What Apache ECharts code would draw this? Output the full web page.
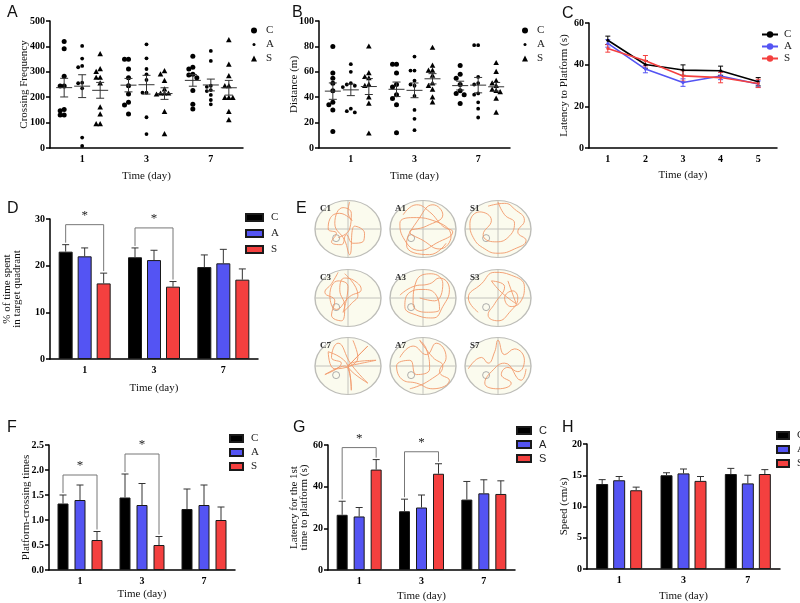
<!DOCTYPE html>
<html>
<head>
<meta charset="utf-8">
<script src="https://cdn.jsdelivr.net/npm/echarts/dist/echarts.min.js"></script>
<style>
html, body { margin: 0; background: #fff; }
#main { width: 800px; height: 603px; }
</style>
</head>
<body>
<div id="main"></div>
<script>
// ---- data ----
var days = ['1', '3', '7'];
var trainDays = ['1', '2', '3', '4', '5'];

// A: crossing frequency, one list per day
var crossC = [[419, 391, 282, 244, 244, 152, 147, 130, 130], [349, 349, 311, 277, 245, 213, 180, 169, 134], [361, 318, 311, 290, 287, 277, 226, 172, 154]];
var crossA = [[402, 352, 323, 318, 257, 255, 235, 41, 8], [408, 353, 311, 290, 268, 218, 218, 121, 55], [382, 343, 245, 241, 228, 224, 209, 189, 172]];
var crossS = [[370, 311, 300, 277, 277, 255, 160, 133, 94, 94], [303, 290, 265, 231, 215, 215, 215, 211, 143, 55], [425, 329, 283, 244, 244, 198, 198, 198, 143, 110]];

// B: distance (m)
var distC = [[80, 59, 55, 51, 45, 36, 34, 30, 13], [66, 66, 59, 50, 48, 42, 39, 34, 12], [65, 58, 55, 50, 45, 43, 42, 35]];
var distA = [[66, 60, 51, 50, 49, 48, 31, 29, 28], [72, 61, 61, 53, 50, 49, 41, 30, 23, 14], [81, 81, 56, 51, 50, 43, 42, 36, 31, 24]];
var distS = [[80, 59, 56, 55, 50, 49, 40, 35, 11.5], [79, 65, 61, 61, 57, 51, 49, 46, 40, 36], [67, 60, 53, 51, 49, 46, 45, 44, 39, 28]];

// C: latency to platform over training days
var latC = [51.7, 40.1, 37.4, 37.1, 31.8], latCErr = [2, 1.8, 2.5, 2.2, 2];
var latA = [50.2, 37.9, 31.4, 34.6, 30.7], latAErr = [1.8, 1.8, 1.8, 1.8, 1.5];
var latS = [47.8, 41.9, 34.6, 33.8, 31.0], latSErr = [1.8, 2.5, 2.5, 2.5, 2];

// D: % of time in target quadrant
var quadC = [23, 21.8, 19.7], quadCErr = [1.5, 2.0, 2.6];
var quadA = [22, 21.2, 20.5], quadAErr = [1.8, 2.1, 3.0];
var quadS = [16.2, 15.5, 17.0], quadSErr = [2.2, 1.1, 2.3];

// F: platform-crossing times
var crossTimesC = [1.33, 1.45, 1.22], crossTimesCErr = [0.17, 0.47, 0.40];
var crossTimesA = [1.40, 1.30, 1.30], crossTimesAErr = [0.30, 0.43, 0.40];
var crossTimesS = [0.60, 0.50, 1.00], crossTimesSErr = [0.17, 0.17, 0.26];

// G: latency for the 1st time to platform
var firstC = [26.5, 28.2, 33.8], firstCErr = [6.5, 5.8, 8.7];
var firstA = [25.7, 30.0, 36.8], firstAErr = [4.3, 6.0, 6.5];
var firstS = [48.2, 46.2, 36.5], firstSErr = [4.8, 4.8, 6.3];

// H: speed
var speedC = [13.6, 15.0, 15.2], speedCErr = [0.7, 0.4, 0.9];
var speedA = [14.2, 15.3, 13.7], speedAErr = [0.6, 0.7, 1.3];
var speedS = [12.6, 14.1, 15.2], speedSErr = [0.5, 0.7, 0.7];

// significant C vs S comparisons (day index)
var sigDays = [0, 1];

// E: swim paths (pool coordinates, -1..1)
var poolNames = ['C1', 'A1', 'S1', 'C3', 'A3', 'S3', 'C7', 'A7', 'S7'];
var pathC1 = [[0.05, 0.95], [0, 0.6], [0.12, 0.3], [-0.25, 0.55], [-0.55, 0.35], [-0.6, 0], [-0.35, -0.15], [-0.5, -0.45], [-0.2, -0.55], [-0.05, -0.2], [0.15, -0.5], [0.45, -0.45], [0.5, -0.15], [0.2, 0.1], [0.05, -0.9], [-0.1, -0.4], [-0.4, 0.2], [-0.15, 0.75], [0.1, 0.55], [0.05, 0], [-0.3, -0.3]];
var pathA1 = [[-0.6, 0.5], [-0.2, 0.85], [0.2, 0.6], [0.6, 0.1], [0.9, -0.1], [0.4, -0.5], [-0.1, -0.75], [-0.6, -0.3], [-0.7, 0.2], [-0.3, 0.4], [0.3, 0.3], [0.85, -0.25], [0.5, -0.7], [0, -0.4], [-0.4, -0.1], [0.1, 0.1], [0.6, 0.5], [0.3, 0.85], [-0.1, 0.4], [-0.5, -0.55], [0.2, -0.9], [0.7, -0.5]];
var pathS1 = [[-0.3, 0.8], [0.2, 0.9], [0.5, 0.7], [0.8, 0.3], [0.6, -0.1], [0.85, -0.4], [0.5, -0.7], [0, -0.85], [-0.4, -0.7], [-0.75, -0.3], [-0.85, 0.2], [-0.55, 0.6], [-0.2, 0.3], [-0.45, -0.2], [-0.1, -0.45], [0.3, -0.3], [0.5, 0.2], [0.2, 0.5], [0, 0.95]];
var pathC3 = [[-0.3, 0.9], [-0.5, 0.5], [-0.7, 0.2], [-0.4, -0.1], [-0.5, -0.6], [-0.2, -0.8], [-0.1, -0.3], [-0.25, 0.3], [-0.1, 0.7], [0.2, 0.6], [0.4, 0.3], [0.05, 0.05], [-0.35, -0.4], [-0.55, 0.1], [-0.3, 0.6], [0, 0.4], [-0.15, -0.5], [0.1, -0.2], [0.3, 0.1], [-0.1, 0.85]];
var pathA3 = [[-0.7, 0.1], [-0.3, 0.4], [0.2, 0.5], [0.5, 0.7], [0.8, 0.3], [0.6, -0.3], [0.3, -0.7], [-0.2, -0.6], [-0.55, -0.3], [-0.4, 0.2], [0, 0.3], [0.4, 0.1], [0.5, -0.4], [0.1, -0.5], [-0.3, -0.2], [-0.2, 0.6], [0.25, 0.85], [0.6, 0.5], [0.35, -0.1], [-0.1, 0]];
var pathS3 = [[-0.6, -0.5], [-0.9, 0], [-0.5, 0.5], [-0.1, 0.9], [0.4, 0.8], [0.8, 0.4], [0.7, -0.1], [0.4, -0.3], [0.2, 0], [0.45, 0.25], [0.6, 0], [0.35, -0.5], [0, -0.8], [-0.3, -0.6], [-0.1, -0.2], [0.2, 0.4], [-0.2, 0.6], [0.1, 0.2], [0.55, -0.2], [0.3, 0.6]];
var pathC7 = [[0, 0], [0.6, 0.7], [0, 0], [0.85, 0.2], [0, 0], [0.6, -0.6], [0.1, 0.05], [-0.3, 0.8], [-0.5, 0.3], [-0.2, 0.1], [-0.7, -0.3], [-0.1, 0], [0.1, -0.85], [0, 0], [-0.6, 0.5], [-0.4, -0.1], [0.3, 0.3], [0.15, 0.9]];
var pathA7 = [[-0.7, 0.3], [-0.3, 0.7], [0.1, 0.4], [0.4, 0.8], [0.7, 0.3], [0.5, -0.2], [0.8, -0.5], [0.3, -0.8], [-0.2, -0.6], [-0.6, -0.5], [-0.8, 0], [-0.4, 0.2], [-0.2, -0.3], [0.2, -0.1], [0.1, 0.6], [-0.1, 0.9], [0.3, 0.3], [0.6, 0], [0.2, -0.5], [-0.4, -0.8]];
var pathS7 = [[-0.9, -0.1], [-0.5, 0.3], [-0.3, 0.1], [-0.1, 0.5], [0, 0.9], [0.2, 0.4], [0.5, 0.6], [0.8, 0.2], [0.6, -0.2], [0.3, -0.05], [0.1, -0.3], [0.4, -0.6], [0, -0.8], [-0.4, -0.6], [-0.2, -0.2], [0.2, 0.1], [0.7, -0.5], [0.85, -0.1]];
var poolPaths = [pathC1, pathA1, pathS1, pathC3, pathA3, pathS3, pathC7, pathA7, pathS7];
var platform = [-0.36, -0.32];

// ---- styles ----
var SERIF = 'Liberation Serif';
var SANS = 'Liberation Sans';
var BLACK = '#000000', BLUE = '#5454f3', RED = '#f4403f';
var groupColors = [BLACK, BLUE, RED];
var groupNames = ['C', 'A', 'S'];

var chart = echarts.init(document.getElementById('main'));

var grids = [], xAxes = [], yAxes = [], series = [], legends = [], titles = [];

function addGrid(g) { grids.push(g); return grids.length - 1; }

function catAxis(gi, data, nameGap) {
  xAxes.push({
    type: 'category', gridIndex: gi, data: data,
    name: 'Time (day)', nameLocation: 'middle', nameGap: nameGap, nameMoveOverlap: false,
    nameTextStyle: { fontFamily: SERIF, fontSize: 11, color: '#111' },
    axisLine: { lineStyle: { color: '#000', width: 1.5 } },
    axisTick: { alignWithLabel: true, length: 4, lineStyle: { color: '#000', width: 1.5 } },
    axisLabel: { fontFamily: SERIF, fontWeight: 'bold', fontSize: 10, color: '#000', margin: 6 }
  });
}

function valAxis(gi, max, interval, name, nameGap, digits) {
  yAxes.push({
    type: 'value', gridIndex: gi, min: 0, max: max, interval: interval,
    name: name, nameLocation: 'middle', nameGap: nameGap, nameMoveOverlap: false,
    nameTextStyle: { fontFamily: SERIF, fontSize: 11, color: '#111', lineHeight: 10 },
    axisLine: { show: true, lineStyle: { color: '#000', width: 1.5 } },
    axisTick: { show: true, length: 4, lineStyle: { color: '#000', width: 1.5 } },
    splitLine: { show: false },
    axisLabel: {
      fontFamily: SERIF, fontWeight: 'bold', fontSize: 10, color: '#000', margin: 5,
      formatter: function (v) { return v.toFixed(digits || 0); }
    }
  });
}

function mean(a) { return a.reduce(function (s, v) { return s + v; }, 0) / a.length; }
function sem(a) {
  var m = mean(a);
  var sd = Math.sqrt(a.reduce(function (s, v) { return s + (v - m) * (v - m); }, 0) / (a.length - 1));
  return sd / Math.sqrt(a.length);
}

// spread points that overlap horizontally (like a scatter dot plot)
function jitter(list, pxPerUnit, size) {
  var placed = [], out = [];
  var cand = [0, -4, 4, -8, 8, -12, 12];
  list.forEach(function (v) {
    var y = v * pxPerUnit, dx = 0;
    for (var c = 0; c < cand.length; c++) {
      var ok = placed.every(function (p) {
        return Math.abs(p[1] - y) >= size || Math.abs(p[0] - cand[c]) >= size;
      });
      if (ok) { dx = cand[c]; break; }
    }
    placed.push([dx, y]);
    out.push(dx);
  });
  return out;
}

var smallDot = 'path://M0,0 M10,10 M2.5,5 A2.5,2.5 0 1 1 7.5,5 A2.5,2.5 0 1 1 2.5,5 Z';

function dotPanel(gi, tag, lists, pxPerUnit, legendLeft) {
  var shapes = ['circle', 'dot', 'triangle'];
  var offs = [-18, 0, 18];
  lists.forEach(function (perDay, k) {
    var data = [];
    perDay.forEach(function (vals, d) {
      var jit = jitter(vals, pxPerUnit, 4);
      vals.forEach(function (v, i) { data.push([d, v, offs[k] + jit[i]]); });
    });
    series.push({
      type: 'custom', name: groupNames[k] + '|' + tag, xAxisIndex: gi, yAxisIndex: gi,
      itemStyle: { color: '#000' },
      encode: { x: 0, y: 1 },
      data: data,
      renderItem: function (params, api) {
        var p = api.coord([api.value(0), api.value(1)]);
        var x = p[0] + api.value(2), y = p[1];
        if (shapes[k] === 'triangle') {
          return { type: 'polygon', shape: { points: [[x, y - 3], [x - 2.8, y + 2.2], [x + 2.8, y + 2.2]] }, style: { fill: '#000' } };
        }
        return { type: 'circle', shape: { cx: x, cy: y, r: shapes[k] === 'circle' ? 2.5 : 1.9 }, style: { fill: '#000' } };
      }
    });
    // mean +/- SEM
    series.push({
      type: 'custom', name: groupNames[k] + '|' + tag + 'm', xAxisIndex: gi, yAxisIndex: gi,
      encode: { x: 0, y: 1 }, z: 3,
      data: perDay.map(function (vals, d) { return [d, mean(vals), sem(vals)]; }),
      renderItem: function (params, api) {
        var d = api.value(0), m = api.value(1), s = api.value(2);
        var pm = api.coord([d, m]), pt = api.coord([d, m + s]), pb = api.coord([d, m - s]);
        var x = pm[0] + offs[k];
        var st = { stroke: '#333', lineWidth: 1 };
        return { type: 'group', children: [
          { type: 'line', shape: { x1: x - 8, y1: pm[1], x2: x + 8, y2: pm[1] }, style: st },
          { type: 'line', shape: { x1: x, y1: pt[1], x2: x, y2: pb[1] }, style: st },
          { type: 'line', shape: { x1: x - 4, y1: pt[1], x2: x + 4, y2: pt[1] }, style: st },
          { type: 'line', shape: { x1: x - 4, y1: pb[1], x2: x + 4, y2: pb[1] }, style: st }
        ] };
      }
    });
  });
  legends.push({
    left: legendLeft, top: 20, orient: 'vertical', itemWidth: 6, itemHeight: 6, itemGap: 3,
    selectedMode: false,
    textStyle: { fontFamily: SERIF, fontSize: 11, color: '#222', padding: [0, 0, 0, 4] },
    formatter: function (n) { return n.split('|')[0]; },
    data: [
      { name: 'C|' + tag, icon: 'circle' },
      { name: 'A|' + tag, icon: smallDot },
      { name: 'S|' + tag, icon: 'triangle' }
    ]
  });
}

function barPanel(gi, tag, means, errs, barWidth, gap, legend, sigLift) {
  var step = barWidth + gap;
  means.forEach(function (vals, k) {
    series.push({
      type: 'bar', name: groupNames[k] + '|' + tag, xAxisIndex: gi, yAxisIndex: gi,
      barWidth: barWidth, barGap: (gap / barWidth * 100) + '%',
      itemStyle: { color: groupColors[k], borderColor: '#1a1a1a', borderWidth: 1 },
      data: vals
    });
  });
  means.forEach(function (vals, k) {
    series.push({
      type: 'custom', name: groupNames[k] + '|' + tag + 'e', xAxisIndex: gi, yAxisIndex: gi,
      encode: { x: 0, y: 1 }, z: 3,
      data: vals.map(function (v, d) { return [d, v, errs[k][d]]; }),
      renderItem: function (params, api) {
        var d = api.value(0), v = api.value(1), e = api.value(2);
        var p0 = api.coord([d, v]), p1 = api.coord([d, v + e]);
        var x = p0[0] + (k - 1) * step;
        var st = { stroke: '#333', lineWidth: 1 };
        return { type: 'group', children: [
          { type: 'line', shape: { x1: x, y1: p0[1], x2: x, y2: p1[1] }, style: st },
          { type: 'line', shape: { x1: x - 3.5, y1: p1[1], x2: x + 3.5, y2: p1[1] }, style: st }
        ] };
      }
    });
  });
  if (sigLift != null) {
    series.push({
      type: 'custom', name: 'sig|' + tag, xAxisIndex: gi, yAxisIndex: gi,
      encode: { x: 0, y: 1 }, z: 4,
      data: sigDays.map(function (d) { return [d, means[0][d]]; }),
      renderItem: function (params, api) {
        var d = api.value(0);
        var pc = api.coord([d, means[0][d] + errs[0][d]]);
        var ps = api.coord([d, means[2][d] + errs[2][d]]);
        var xc = pc[0] - step, xs = pc[0] + step;
        var top = Math.min(pc[1], ps[1]) - sigLift;
        var st = { stroke: '#777', lineWidth: 1, fill: null };
        return { type: 'group', children: [
          { type: 'polyline', shape: { points: [[xc, pc[1] - 2], [xc, top], [xs, top], [xs, ps[1] - 2]] }, style: st },
          { type: 'text', style: { text: '*', x: pc[0], y: top - 3, align: 'center', verticalAlign: 'bottom', font: '13px ' + SERIF, fill: '#222' } }
        ] };
      }
    });
  }
  legends.push({
    left: legend.left, top: legend.top, orient: 'vertical',
    itemWidth: legend.w, itemHeight: 7, itemGap: legend.gap, selectedMode: false,
    textStyle: { fontFamily: legend.font, fontSize: 11, color: '#222', padding: [0, 0, 0, 3] },
    formatter: function (n) { return n.split('|')[0]; },
    data: groupNames.map(function (g) { return { name: g + '|' + tag, icon: 'rect' }; })
  });
}

// ---- panel A ----
var gA = addGrid({ left: 50, top: 21, width: 193, height: 127 });
catAxis(gA, days, 23); valAxis(gA, 500, 100, 'Crossing Frequency', 21);
dotPanel(gA, 'a', [crossC, crossA, crossS], 127 / 500, 246);

// ---- panel B ----
var gB = addGrid({ left: 319, top: 21, width: 191, height: 127 });
catAxis(gB, days, 23); valAxis(gB, 100, 20, 'Distance (m)', 20);
dotPanel(gB, 'b', [distC, distA, distS], 127 / 100, 517);

// ---- panel C ----
var gC = addGrid({ left: 589, top: 23, width: 188, height: 125 });
catAxis(gC, trainDays, 22); valAxis(gC, 60, 20, 'Latency to Platform (s)', 20);
[[latC, latCErr], [latA, latAErr], [latS, latSErr]].forEach(function (pair, k) {
  series.push({
    type: 'line', name: groupNames[k] + '|c', xAxisIndex: gC, yAxisIndex: gC,
    data: pair[0], symbol: 'circle', symbolSize: 3,
    lineStyle: { color: groupColors[k], width: 1.6 }, itemStyle: { color: groupColors[k] }
  });
  series.push({
    type: 'custom', name: groupNames[k] + '|ce', xAxisIndex: gC, yAxisIndex: gC,
    encode: { x: 0, y: 1 },
    data: pair[0].map(function (v, i) { return [i, v, pair[1][i]]; }),
    renderItem: function (params, api) {
      var i = api.value(0), v = api.value(1), e = api.value(2);
      var pt = api.coord([i, v + e]), pb = api.coord([i, v - e]);
      var st = { stroke: groupColors[k], lineWidth: 1 };
      return { type: 'group', children: [
        { type: 'line', shape: { x1: pt[0], y1: pt[1], x2: pb[0], y2: pb[1] }, style: st },
        { type: 'line', shape: { x1: pt[0] - 2.5, y1: pt[1], x2: pt[0] + 2.5, y2: pt[1] }, style: st },
        { type: 'line', shape: { x1: pb[0] - 2.5, y1: pb[1], x2: pb[0] + 2.5, y2: pb[1] }, style: st }
      ] };
    }
  });
});
legends.push({
  left: 756, top: 24, orient: 'vertical', itemWidth: 16, itemHeight: 8, itemGap: 1, selectedMode: false,
  textStyle: { fontFamily: SERIF, fontSize: 11, color: '#222', padding: [0, 0, 0, 1] },
  formatter: function (n) { return n.split('|')[0]; },
  data: ['C|c', 'A|c', 'S|c']
});

// ---- panel D ----
var gD = addGrid({ left: 50, top: 219, width: 208, height: 140 });
catAxis(gD, days, 24); valAxis(gD, 30, 10, '% of time spent\nin target quadrant', 28);
barPanel(gD, 'd', [quadC, quadA, quadS], [quadCErr, quadAErr, quadSErr], 14, 5,
  { left: 240, top: 207, w: 17, gap: 5, font: SERIF }, 20);

// ---- panel F ----
var gF = addGrid({ left: 49, top: 445, width: 186, height: 125 });
catAxis(gF, days, 19); valAxis(gF, 2.5, 0.5, 'Platform-crossing times', 18, 1);
barPanel(gF, 'f', [crossTimesC, crossTimesA, crossTimesS], [crossTimesCErr, crossTimesAErr, crossTimesSErr], 11, 6,
  { left: 224, top: 428, w: 13, gap: 3, font: SERIF }, 20);

// ---- panel G ----
var gG = addGrid({ left: 328, top: 445, width: 187, height: 125 });
catAxis(gG, days, 21); valAxis(gG, 60, 20, 'Latency for the 1st\ntime to platform (s)', 19);
barPanel(gG, 'g', [firstC, firstA, firstS], [firstCErr, firstAErr, firstSErr], 11, 6,
  { left: 511, top: 420, w: 14, gap: 3, font: SANS }, 12);

// ---- panel H ----
var gH = addGrid({ left: 587, top: 444, width: 193, height: 125 });
catAxis(gH, days, 22); valAxis(gH, 20, 5, 'Speed (cm/s)', 18);
barPanel(gH, 'h', [speedC, speedA, speedS], [speedCErr, speedAErr, speedSErr], 12, 5,
  { left: 771, top: 425, w: 12, gap: 3, font: SERIF }, null);

// ---- panel E: swim paths ----
var poolCx = [348, 423, 498], poolCy = [229, 298, 366], poolW = 66, poolH = 57;
poolPaths.forEach(function (path, i) {
  var cx = poolCx[i % 3], cy = poolCy[Math.floor(i / 3)];
  var gi = addGrid({ left: cx - poolW / 2, top: cy - poolH / 2, width: poolW, height: poolH });
  var ax = { type: 'value', gridIndex: gi, min: -1, max: 1, show: false };
  xAxes.push(ax); yAxes.push(Object.assign({}, ax));
  series.push({
    type: 'custom', name: 'pool' + i, xAxisIndex: gi, yAxisIndex: gi, z: 1, silent: true,
    encode: { x: 0, y: 1 }, data: [[platform[0], platform[1]]],
    renderItem: function (params, api) {
      var c = api.coord([0, 0]), l = api.coord([-1, 0]), r = api.coord([1, 0]);
      var t = api.coord([0, 1]), b = api.coord([0, -1]);
      var pf = api.coord([api.value(0), api.value(1)]);
      var rx = (r[0] - l[0]) / 2, ry = (b[1] - t[1]) / 2;
      var st = { stroke: '#c2c2bc', lineWidth: 1 };
      return { type: 'group', children: [
        { type: 'circle', shape: { cx: 0, cy: 0, r: rx }, x: c[0], y: c[1], scaleY: ry / rx,
          style: { fill: '#fbfbee', stroke: '#bdbdb8', lineWidth: 1.4, strokeNoScale: true } },
        { type: 'line', shape: { x1: l[0], y1: l[1], x2: r[0], y2: r[1] }, style: st },
        { type: 'line', shape: { x1: t[0], y1: t[1], x2: b[0], y2: b[1] }, style: st },
        { type: 'circle', shape: { cx: pf[0], cy: pf[1], r: 3.5 }, style: { fill: null, stroke: '#999', lineWidth: 0.8 } }
      ] };
    }
  });
  series.push({
    type: 'line', name: 'path' + i, xAxisIndex: gi, yAxisIndex: gi, z: 2, silent: true,
    data: path, smooth: 0.5, showSymbol: false,
    lineStyle: { color: '#f2996a', width: 0.9 }
  });
  titles.push({
    text: poolNames[i], left: cx - poolW / 2, top: cy - poolH / 2 - 1,
    textStyle: { fontFamily: SERIF, fontWeight: 'bold', fontSize: 9, color: '#333' }
  });
});

// ---- panel letters ----
[['A', 2, 0], ['B', 287, 0], ['C', 557, 1], ['D', 2, 196], ['E', 291, 196], ['F', 2, 415], ['G', 288, 415], ['H', 557, 415]]
  .forEach(function (t) {
    titles.push({ text: t[0], left: t[1], top: t[2], textStyle: { fontFamily: SANS, fontWeight: 'normal', fontSize: 16, color: '#111' } });
  });

chart.setOption({
  backgroundColor: '#fff',
  animation: false,
  title: titles,
  legend: legends,
  grid: grids,
  xAxis: xAxes,
  yAxis: yAxes,
  series: series
});
</script>
</body>
</html>
